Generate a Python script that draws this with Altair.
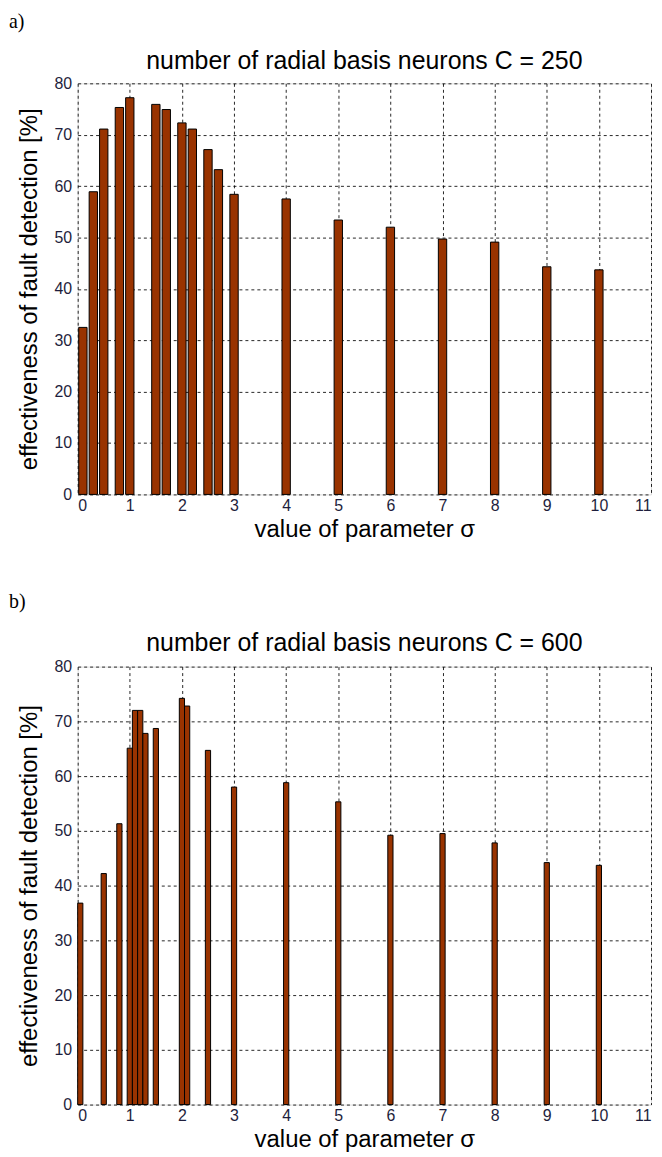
import altair as alt
import pandas as pd

# ---- data ----
sigma_a = [0.1, 0.3, 0.5, 0.8, 1.0, 1.5, 1.7, 2.0, 2.2, 2.5, 2.7, 3, 4, 5, 6, 7, 8, 9, 10]
eff_a = [32.5, 58.9, 71.1, 75.3, 77.2, 75.9, 74.9, 72.3, 71.1, 67.1, 63.2, 58.4,
         57.5, 53.4, 52.0, 49.7, 49.1, 44.3, 43.7]

sigma_b = [0.05, 0.5, 0.8, 1.0, 1.1, 1.2, 1.3, 1.5, 2.0, 2.1, 2.5, 3, 4, 5, 6, 7, 8, 9, 10]
eff_b = [36.8, 42.2, 51.3, 65.1, 72.0, 72.0, 67.8, 68.7, 74.2, 72.8, 64.7, 58.0,
         58.8, 55.3, 49.2, 49.5, 47.8, 44.2, 43.7]

x_ticks = [0, 1, 2, 3, 4, 5, 6, 7, 8, 9, 10, 11]
y_ticks = [0, 10, 20, 30, 40, 50, 60, 70, 80]

titles = ["number of radial basis neurons C = 250", "number of radial basis neurons C = 600"]
panel_labels = ["a)", "b)"]
x_title = "value of parameter σ"
y_title = "effectiveness of fault detection [%]"

FONT = "Liberation Sans"
LABEL_COLOR = "#1e1e3c"


def panel(sig, eff, bar_w, title, label, height, label_dy, title_dy):
    df = pd.DataFrame({"sigma": sig, "eff": eff})
    half = bar_w / 2.0
    bars = (
        alt.Chart(df)
        .transform_calculate(x0=f"datum.sigma - {half}", x1=f"datum.sigma + {half}")
        .mark_bar(color="#993300", stroke="#000000", strokeWidth=1)
        .encode(
            x=alt.X(
                "x0:Q",
                scale=alt.Scale(domain=[0, 11], nice=False, zero=False),
                axis=alt.Axis(
                    values=x_ticks, title=x_title, format="d",
                    grid=True, gridColor="#000000", gridDash=[3, 3], gridOpacity=0.85,
                    domain=False, ticks=False, labelPadding=3,
                    labelFont=FONT, labelFontSize=16, labelColor=LABEL_COLOR,
                    titleFont=FONT, titleFontSize=24, titleFontWeight="normal",
                    titleColor="#000000", titlePadding=4,
                ),
            ),
            x2="x1:Q",
            y=alt.Y(
                "eff:Q",
                scale=alt.Scale(domain=[0, 80], nice=False),
                axis=alt.Axis(
                    values=y_ticks, title=y_title, format="d",
                    grid=True, gridColor="#000000", gridDash=[3, 3], gridOpacity=0.85,
                    domain=False, ticks=False, labelPadding=6,
                    labelFont=FONT, labelFontSize=16, labelColor=LABEL_COLOR,
                    titleFont=FONT, titleFontSize=24, titleFontWeight="normal",
                    titleColor="#000000", titlePadding=13,
                ),
            ),
            y2=alt.datum(0),
        )
    )
    lab = (
        alt.Chart(pd.DataFrame({"t": [label]}))
        .mark_text(font="Liberation Serif", fontSize=20, align="left", baseline="middle", color="#000000")
        .encode(text="t:N", x=alt.value(-69), y=alt.value(label_dy))
    )
    ttl = (
        alt.Chart(pd.DataFrame({"t": [title]}))
        .mark_text(font=FONT, fontSize=25, align="center", baseline="middle", color="#000000")
        .encode(text="t:N", x=alt.value(288), y=alt.value(title_dy))
    )
    return alt.layer(bars, lab, ttl).properties(width=576, height=height)


top = panel(sigma_a, eff_a, 0.16, titles[0], panel_labels[0], 413, -62, -22)
bottom = panel(sigma_b, eff_b, 0.1, titles[1], panel_labels[1], 440, -65, -24)

chart = (
    alt.vconcat(top, bottom, spacing=49)
    .properties(padding={"left": 0, "top": 0, "right": 2, "bottom": 2})
    .configure_view(stroke="#000000", strokeWidth=1)
    .configure(background="#ffffff")
)

chart.save("out.html", embed_options={"renderer": "svg", "actions": False})
